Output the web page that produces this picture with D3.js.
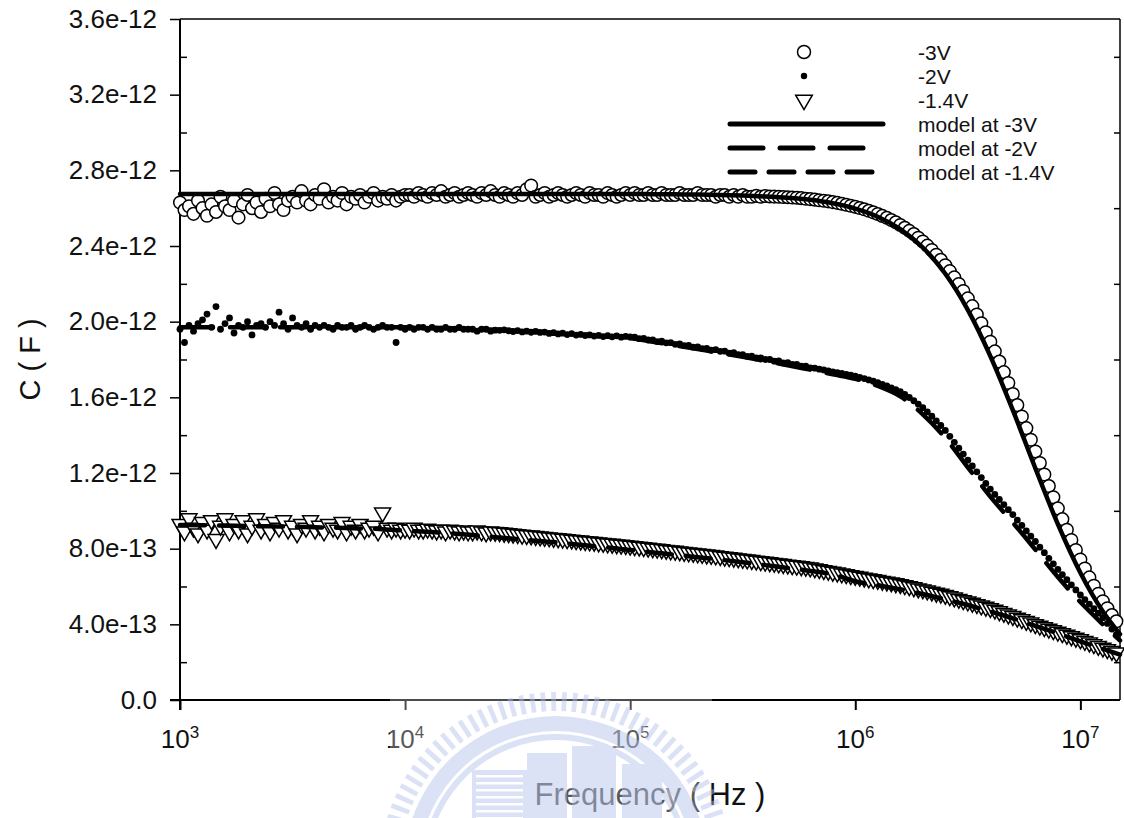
<!DOCTYPE html>
<html>
<head>
<meta charset="utf-8">
<script src="https://cdnjs.cloudflare.com/ajax/libs/d3/7.8.5/d3.min.js"></script>
<style>
  body { margin: 0; background: #fff; }
  svg { display: block; font-family: "Liberation Sans", Arial, sans-serif; }
</style>
</head>
<body>
<div class="chart"></div>
<script>
// log10 of the measured frequencies (Hz)
var freqExp = [
  3.00,3.02,3.04,3.06,3.08,3.10,3.12,3.14,3.16,3.18,
  3.20,3.22,3.24,3.26,3.28,3.30,3.32,3.34,3.36,3.38,
  3.40,3.42,3.44,3.46,3.48,3.50,3.52,3.54,3.56,3.58,
  3.60,3.62,3.64,3.66,3.68,3.70,3.72,3.74,3.76,3.78,
  3.80,3.82,3.84,3.86,3.88,3.90,3.92,3.94,3.96,3.98,
  4.00,4.02,4.04,4.06,4.08,4.10,4.12,4.14,4.16,4.18,
  4.20,4.22,4.24,4.26,4.28,4.30,4.32,4.34,4.36,4.38,
  4.40,4.42,4.44,4.46,4.48,4.50,4.52,4.54,4.56,4.58,
  4.60,4.62,4.64,4.66,4.68,4.70,4.72,4.74,4.76,4.78,
  4.80,4.82,4.84,4.86,4.88,4.90,4.92,4.94,4.96,4.98,
  5.00,5.02,5.04,5.06,5.08,5.10,5.12,5.14,5.16,5.18,
  5.20,5.22,5.24,5.26,5.28,5.30,5.32,5.34,5.36,5.38,
  5.40,5.42,5.44,5.46,5.48,5.50,5.52,5.54,5.56,5.58,
  5.60,5.62,5.64,5.66,5.68,5.70,5.72,5.74,5.76,5.78,
  5.80,5.82,5.84,5.86,5.88,5.90,5.92,5.94,5.96,5.98,
  6.00,6.02,6.04,6.06,6.08,6.10,6.12,6.14,6.16,6.18,
  6.20,6.22,6.24,6.26,6.28,6.30,6.32,6.34,6.36,6.38,
  6.40,6.42,6.44,6.46,6.48,6.50,6.52,6.54,6.56,6.58,
  6.60,6.62,6.64,6.66,6.68,6.70,6.72,6.74,6.76,6.78,
  6.80,6.82,6.84,6.86,6.88,6.90,6.92,6.94,6.96,6.98,
  7.00,7.02,7.04,7.06,7.08,7.10,7.12,7.14,7.16
];

// measured capacitance in pF (1e-12 F)
var cap3V = [
  2.63,2.59,2.61,2.57,2.64,2.60,2.56,2.62,2.58,2.66,
  2.61,2.59,2.64,2.55,2.62,2.67,2.60,2.63,2.58,2.65,
  2.61,2.68,2.62,2.59,2.64,
  2.66,2.63,2.69,2.64,2.62,2.67,2.65,2.70,2.63,2.66,
  2.64,2.68,2.62,2.66,2.65,2.67,2.63,2.66,2.68,2.64,
  2.66,2.65,2.67,2.64,2.66,2.67,
  2.67,2.66,2.68,2.67,2.66,2.68,2.67,2.69,2.66,2.67,
  2.68,2.66,2.67,2.68,2.67,2.66,2.68,2.67,2.69,2.67,
  2.66,2.68,2.67,2.66,2.68,2.67,2.70,2.72,2.66,2.67,
  2.68,2.66,2.67,2.68,2.67,2.66,2.67,2.68,2.67,2.66,
  2.68,2.67,2.67,2.66,2.68,2.67,2.66,2.67,2.68,
  2.67,2.68,2.67,2.67,2.68,2.67,2.67,2.68,2.67,2.67,
  2.67,2.68,2.67,2.67,2.67,2.68,2.67,2.67,2.67,2.66,
  2.67,2.67,2.66,2.67,2.66,2.67,2.66,2.66,2.665,2.66,
  2.664,2.662,2.661,2.66,2.659,2.658,2.656,2.655,2.653,2.65,2.648,
  2.645,2.642,2.639,2.636,2.632,2.628,2.623,2.618,2.613,2.607,
  2.601,2.594,2.586,2.578,2.569,2.559,2.549,2.537,2.525,2.511,
  2.496,2.480,2.463,2.444,2.424,2.402,2.379,2.354,2.327,2.298,
  2.267,2.234,2.199,2.162,2.123,2.082,2.038,1.992,1.944,1.894,
  1.843,1.789,1.733,1.676,1.618,1.559,1.499,1.437,1.376,1.314,
  1.253,1.192,1.131,1.072,1.013,0.956,0.900,0.846,0.793,0.743,
  0.695,0.648,0.604,0.562,0.522,0.485,0.449,0.416
];

var cap2V = [
  1.96,1.89,1.98,1.95,1.99,2.01,2.04,1.97,2.08,1.96,
  1.99,2.02,1.94,1.98,1.97,2.00,1.93,1.98,1.99,1.97,
  2.00,1.98,2.05,1.99,1.96,2.02,1.98,1.97,1.99,1.96,1.98,
  1.97,1.98,1.97,1.96,1.98,1.97,1.97,1.98,1.96,1.97,
  1.98,1.97,1.96,1.97,1.98,1.97,1.97,1.89,1.97,1.96,
  1.97,1.96,1.97,1.97,1.96,1.97,1.96,1.96,1.97,1.96,
  1.96,1.97,1.96,1.96,1.96,1.95,1.96,1.96,1.95,1.955,
  1.954,1.957,1.952,1.948,1.953,1.946,1.950,1.944,1.949,1.943,
  1.945,1.938,1.942,1.935,1.939,1.932,1.937,1.929,1.933,1.927,
  1.930,1.924,1.928,1.921,1.926,1.920,1.925,1.918,1.922,1.920,
  1.918,1.910,1.912,1.903,1.904,1.895,1.897,1.888,1.889,1.880,
  1.882,1.873,1.874,1.865,1.867,1.858,1.859,1.850,1.852,1.843,
  1.844,1.834,1.836,1.826,1.826,1.817,1.818,1.808,1.809,1.800,
  1.800,1.791,1.792,1.782,1.783,1.774,1.774,1.765,1.765,1.756,
  1.754,1.749,1.745,1.740,1.735,1.731,1.726,1.721,1.717,1.712,
  1.706,1.699,1.692,1.685,1.678,1.669,1.660,1.650,1.640,1.630,
  1.615,1.599,1.582,1.564,1.545,1.523,1.500,1.476,1.451,1.425,
  1.394,1.362,1.331,1.300,1.268,1.237,1.206,1.176,1.145,1.115,
  1.087,1.060,1.033,1.006,0.980,0.951,0.923,0.894,0.866,0.838,
  0.808,0.779,0.749,0.720,0.690,0.663,0.636,0.609,0.582,0.555,
  0.531,0.507,0.483,0.459,0.435,0.405,0.375,0.345
];

var cap14V = [
  0.93,0.89,0.96,0.91,0.88,0.94,0.90,0.95,0.85,0.92,
  0.96,0.89,0.93,0.90,0.95,0.88,0.92,0.96,0.90,0.93,
  0.89,0.94,0.91,0.95,0.90,0.92,0.88,0.93,0.91,0.95,
  0.90,0.92,0.89,0.93,0.91,0.90,0.94,0.89,0.92,0.90,
  0.93,0.90,0.91,0.92,0.89,0.99,
  0.91,0.90,0.91,0.90,0.905,0.90,0.91,0.90,0.90,0.905,
  0.90,0.895,0.90,0.89,0.90,0.895,0.89,0.895,0.89,0.89,
  0.895,0.89,0.885,0.89,0.888,
  0.886,0.883,0.881,0.878,0.876,0.873,0.871,0.869,0.866,0.864,
  0.861,0.859,0.856,0.854,0.852,0.849,0.847,0.844,0.842,0.839,
  0.837,0.835,0.832,0.830,0.827,0.825,0.822,0.820,0.818,0.815,
  0.812,0.810,0.807,0.804,0.801,0.799,0.796,0.793,0.790,0.788,
  0.785,0.782,0.779,0.777,0.774,0.771,0.768,0.766,0.763,0.760,
  0.757,0.754,0.751,0.748,0.745,0.742,0.739,0.736,0.733,0.730,
  0.727,0.724,0.721,0.718,0.715,0.712,0.709,0.706,0.703,0.700,
  0.695,0.691,0.686,0.682,0.677,0.673,0.668,0.664,0.659,0.655,
  0.651,0.646,0.642,0.638,0.634,0.629,0.625,0.621,0.616,0.612,
  0.606,0.601,0.595,0.589,0.584,0.578,0.572,0.566,0.561,0.555,
  0.548,0.541,0.534,0.527,0.520,0.513,0.506,0.499,0.492,0.485,
  0.477,0.468,0.460,0.451,0.443,0.434,0.426,0.417,0.409,0.400,
  0.392,0.384,0.376,0.368,0.360,0.352,0.344,0.336,0.328,0.320,
  0.311,0.303,0.294,0.285,0.276,0.268,0.259,0.250
];

// model curves, log10 frequency and pF
var modelExp = [
  3.0,3.1,3.2,3.3,3.4,3.5,3.6,3.7,3.8,3.9,
  4.0,4.1,4.2,4.3,4.4,4.5,4.6,4.7,4.8,4.9,
  5.0,5.1,5.2,5.3,5.4,5.5,5.6,5.7,5.8,5.9,
  6.0,6.1,6.2,6.3,6.4,6.5,6.6,6.7,6.8,6.9,
  7.0,7.1,7.176
];
var model3V = [
  2.675,2.675,2.675,2.675,2.675,2.675,2.675,2.675,2.675,2.675,
  2.675,2.675,2.675,2.675,2.675,2.675,2.675,2.675,2.675,2.675,
  2.675,2.674,2.673,2.672,2.670,2.667,2.662,2.655,2.644,2.626,
  2.598,2.555,2.489,2.392,2.253,2.062,1.818,1.532,1.225,0.930,
  0.673,0.468,0.348
];
var model2V = [
  1.970,1.970,1.970,1.970,1.970,1.970,1.970,1.970,1.970,1.970,
  1.970,1.968,1.965,1.962,1.957,1.951,1.944,1.936,1.928,1.920,
  1.912,1.894,1.875,1.855,1.835,1.814,1.792,1.770,1.746,1.722,
  1.698,1.660,1.605,1.510,1.385,1.230,1.075,0.938,0.795,0.650,
  0.518,0.400,0.315
];
var model14V = [
  0.925,0.924,0.922,0.920,0.918,0.916,0.913,0.910,0.907,0.903,
  0.895,0.889,0.881,0.872,0.861,0.850,0.840,0.830,0.818,0.806,
  0.793,0.780,0.768,0.755,0.742,0.728,0.713,0.698,0.682,0.664,
  0.628,0.607,0.585,0.560,0.532,0.502,0.468,0.432,0.392,0.352,
  0.310,0.270,0.240
];

var yTicks = [0, 0.4, 0.8, 1.2, 1.6, 2.0, 2.4, 2.8, 3.2, 3.6];
var yTickLabels = ["0.0", "4.0e-13", "8.0e-13", "1.2e-12", "1.6e-12",
                   "2.0e-12", "2.4e-12", "2.8e-12", "3.2e-12", "3.6e-12"];
var yMinorTicks = [0.2, 0.6, 1.0, 1.4, 1.8, 2.2, 2.6, 3.0, 3.4];
var xTickExp = [3, 4, 5, 6, 7];
var legendLabels = ["-3V", "-2V", "-1.4V", "model at -3V", "model at -2V", "model at -1.4V"];

var svgWidth = 1124;
var svgHeight = 818;
var margin = { top: 19, right: 4, bottom: 118, left: 180 };

var svg = d3.select(".chart")
    .append("svg")
    .attr("width", svgWidth)
    .attr("height", svgHeight);

// scales
var x = d3.scaleLog()
    .domain([1e3, 1.5e7])
    .range([margin.left, svgWidth - margin.right]);
var y = d3.scaleLinear()
    .domain([0, 3.6])
    .range([svgHeight - margin.bottom, margin.top]);

var x0 = margin.left, x1 = svgWidth - margin.right;
var y0 = svgHeight - margin.bottom, y1 = margin.top;

// frame lines
svg.append("line").attr("x1", x0).attr("x2", x1).attr("y1", y1).attr("y2", y1)
    .attr("stroke", "#000").attr("stroke-width", 1.5);
svg.append("line").attr("x1", x1).attr("x2", x1).attr("y1", y1).attr("y2", y0)
    .attr("stroke", "#000").attr("stroke-width", 1.5);

// left axis, major ticks out with labels
var leftAxis = d3.axisLeft(y)
    .tickValues(yTicks)
    .tickSize(10)
    .tickPadding(13)
    .tickFormat(function(d, i) { return yTickLabels[i]; });
var gLeft = svg.append("g").attr("transform", `translate(${x0},0)`).call(leftAxis);
gLeft.select(".domain").remove();
gLeft.selectAll("line").attr("stroke-width", 1.5);
gLeft.selectAll("text").attr("font-size", 26).attr("fill", "#111")
    .attr("font-family", "Liberation Sans, Arial, sans-serif");

// left minor ticks point inward
var gLeftMinor = svg.append("g").attr("transform", `translate(${x0},0)`)
    .call(d3.axisRight(y).tickValues(yMinorTicks).tickSize(7).tickFormat(""));
gLeftMinor.select(".domain").remove();
gLeftMinor.selectAll("line").attr("stroke-width", 1.5);

// right axis ticks point inward
var gRight = svg.append("g").attr("transform", `translate(${x1},0)`)
    .call(d3.axisLeft(y).tickValues(yMinorTicks).tickSize(6).tickFormat(""));
gRight.select(".domain").remove();
gRight.selectAll("line").attr("stroke-width", 1.5);

// bottom axis
var bottomAxis = d3.axisBottom(x)
    .tickValues(xTickExp.map(function(e) { return Math.pow(10, e); }))
    .tickSize(10)
    .tickFormat("");
var gBottom = svg.append("g").attr("transform", `translate(0,${y0})`).call(bottomAxis);
gBottom.select(".domain").remove();
gBottom.selectAll("line").attr("stroke-width", 2);

// axis lines
svg.append("line").attr("x1", x0 - 10).attr("x2", x1).attr("y1", y0).attr("y2", y0)
    .attr("stroke", "#000").attr("stroke-width", 2);
svg.append("line").attr("x1", x0).attr("x2", x0).attr("y1", y1).attr("y2", y0 + 10)
    .attr("stroke", "#000").attr("stroke-width", 2);

// power-of-ten labels
var xLabels = svg.append("g").selectAll("text")
    .data(xTickExp)
    .enter()
    .append("text")
    .attr("x", function(d) { return x(Math.pow(10, d)); })
    .attr("y", y0 + 48)
    .attr("text-anchor", "middle")
    .attr("font-size", 26)
    .attr("fill", "#111");
xLabels.append("tspan").text("10");
xLabels.append("tspan").attr("font-size", 17).attr("dy", -10).text(function(d) { return d; });

// axis titles, centred on the plot area
svg.append("text")
    .attr("x", (x0 + x1) / 2)
    .attr("y", 805)
    .attr("text-anchor", "middle")
    .attr("font-size", 31)
    .attr("fill", "#111")
    .text("Frequency ( Hz )");
svg.append("text")
    .attr("transform", `translate(40,${(y0 + y1) / 2}) rotate(-90)`)
    .attr("text-anchor", "middle")
    .attr("font-size", 29)
    .attr("fill", "#111")
    .text("C ( F )");

// build point records
function points(values) {
    return values.map(function(v, i) {
        return { f: Math.pow(10, freqExp[i]), c: v };
    });
}
function modelPoints(values) {
    return values.map(function(v, i) {
        return { f: Math.pow(10, modelExp[i]), c: v };
    });
}

var plot = svg.append("g");

// -3V open circles
plot.append("g").selectAll("circle")
    .data(points(cap3V))
    .enter()
    .append("circle")
    .attr("cx", function(d) { return x(d.f); })
    .attr("cy", function(d) { return y(d.c); })
    .attr("r", 6.3)
    .attr("fill", "#fff")
    .attr("stroke", "#000")
    .attr("stroke-width", 1.5);

// -2V small dots
plot.append("g").selectAll("circle")
    .data(points(cap2V))
    .enter()
    .append("circle")
    .attr("cx", function(d) { return x(d.f); })
    .attr("cy", function(d) { return y(d.c); })
    .attr("r", 3.4)
    .attr("fill", "#000");

// -1.4V open down triangles
var tri = d3.symbol().type(d3.symbolTriangle).size(110);
plot.append("g").selectAll("path")
    .data(points(cap14V))
    .enter()
    .append("path")
    .attr("d", tri)
    .attr("transform", function(d) { return `translate(${x(d.f)},${y(d.c)}) rotate(180)`; })
    .attr("fill", "#fff")
    .attr("stroke", "#000")
    .attr("stroke-width", 1.5);

// model lines
var line = d3.line()
    .x(function(d) { return x(d.f); })
    .y(function(d) { return y(d.c); })
    .curve(d3.curveMonotoneX);

var modelStyles = [
    { values: model3V, dash: null },
    { values: model2V, dash: "33,17" },
    { values: model14V, dash: "25,14" }
];
modelStyles.forEach(function(m) {
    plot.append("path")
        .datum(modelPoints(m.values))
        .attr("d", line)
        .attr("fill", "none")
        .attr("stroke", "#000")
        .attr("stroke-width", 4.5)
        .attr("stroke-linecap", "round")
        .attr("stroke-dasharray", m.dash);
});

// legend
var legend = svg.append("g");
var rowY = [52, 76, 100, 124, 148, 172];
legend.append("circle").attr("cx", 804).attr("cy", rowY[0]).attr("r", 6.5)
    .attr("fill", "#fff").attr("stroke", "#000").attr("stroke-width", 1.5);
legend.append("circle").attr("cx", 804).attr("cy", rowY[1]).attr("r", 3.2).attr("fill", "#000");
legend.append("path").attr("d", d3.symbol().type(d3.symbolTriangle).size(120)())
    .attr("transform", `translate(804,${rowY[2]}) rotate(180)`)
    .attr("fill", "#fff").attr("stroke", "#000").attr("stroke-width", 1.5);
[[null, 883], ["33,17", 867], ["25,14", 874]].forEach(function(s, i) {
    legend.append("line")
        .attr("x1", 730).attr("x2", s[1])
        .attr("y1", rowY[3 + i]).attr("y2", rowY[3 + i])
        .attr("stroke", "#000")
        .attr("stroke-width", 5)
        .attr("stroke-linecap", "round")
        .attr("stroke-dasharray", s[0]);
});
legend.selectAll("text")
    .data(legendLabels)
    .enter()
    .append("text")
    .attr("x", 918)
    .attr("y", function(d, i) { return rowY[i] + 7.5; })
    .attr("font-size", 21)
    .attr("fill", "#111")
    .text(function(d) { return d; });

// faint university watermark over the lower middle
var wm = svg.append("g");
wm.append("rect")
    .attr("x", 390).attr("y", 686).attr("width", 322).attr("height", 132)
    .attr("fill", "#fff").attr("opacity", 0.3);
var logo = wm.append("g")
    .attr("transform", "translate(556,868)")
    .attr("fill", "#b3c1ea")
    .attr("opacity", 0.45);
logo.selectAll("rect.tooth")
    .data(d3.range(-80, 81, 3.6))
    .enter()
    .append("rect")
    .attr("class", "tooth")
    .attr("x", -2.4).attr("y", -176).attr("width", 4.8).attr("height", 19)
    .attr("transform", function(a) { return `rotate(${a})`; });
logo.append("path")
    .attr("d", d3.arc()({ innerRadius: 128, outerRadius: 152, startAngle: -1.5, endAngle: 1.5 }));
logo.append("path")
    .attr("d", d3.arc()({ innerRadius: 134, outerRadius: 137, startAngle: -1.5, endAngle: 1.5 }))
    .attr("fill", "#fff");
[[-84, -98, 55, 50], [-29, -115, 40, 70], [16, -122, 44, 80], [66, -104, 40, 60]]
    .forEach(function(b) {
        logo.append("rect").attr("x", b[0]).attr("y", b[1]).attr("width", b[2]).attr("height", b[3]);
    });
logo.selectAll("rect.stripe")
    .data(d3.range(0, 7))
    .enter()
    .append("rect")
    .attr("class", "stripe")
    .attr("x", -80).attr("y", function(d) { return -93 + d * 7; })
    .attr("width", 47).attr("height", 2.5)
    .attr("fill", "#fff");
</script>
</body>
</html>
